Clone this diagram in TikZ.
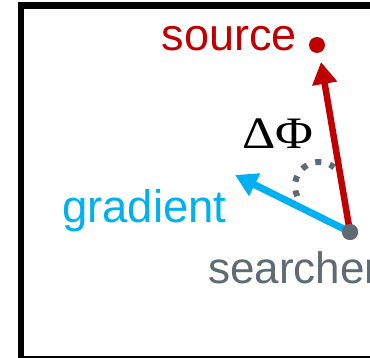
\documentclass[tikz,border=0pt]{standalone}
\usepackage{fontspec}
\setmainfont{Liberation Serif}
\setsansfont{Liberation Sans}
\usetikzlibrary{arrows.meta}

\definecolor{srcred}{HTML}{C00000}
\definecolor{gradblue}{HTML}{00B0F0}
\definecolor{srchgray}{HTML}{5F6A72}

\begin{document}
\begin{tikzpicture}[
  x=1pt, y=1pt,
  >={Triangle[width=24pt,length=22pt]},
  dot/.style={circle, fill, inner sep=0pt, minimum size=16pt},
  lab/.style={inner sep=0pt, anchor=base west,
              font=\fontsize{45}{54}\selectfont\sffamily},
  vec/.style={line width=6.5pt, ->},
  angmark/.style={srchgray, line width=6pt, dash pattern=on 6pt off 8.8pt}
]
  \useasboundingbox (0,0) rectangle (370,357);
  \clip (0,0) rectangle (370,357);
  \draw[line width=6.5pt] (21,351.5) rectangle (390,-2);

  % points
  \node[dot, srcred]   (src)  at (317,312) {};
  \node[dot, srchgray] (srch) at (350,125) {};
  \coordinate (srctip)  at (321,295);
  \coordinate (gradtip) at (235,182);

  % labels
  \node[lab, srcred]   (srclab)  at (161.5,306) {source};
  \node[lab, gradblue, font=\fontsize{45.5}{54}\selectfont\sffamily]
    (gradlab) at (62,135) {gradient};
  \node[lab, srchgray, font=\fontsize{44}{52}\selectfont\sffamily]
    (srchlab) at (208,74) {searcher};
  \node[inner sep=0pt, anchor=base west, font=\fontsize{45}{54}\selectfont]
    (dphi) at (242,208.7) {\scalebox{1.15}[1]{ΔΦ}};

  % angle between the two directions
  \draw[angmark] (319,171) ++(205:24) arc[start angle=205, end angle=51, radius=24];

  \draw[vec, srcred]   (srch.center) -- (srctip);
  \draw[vec, gradblue, line width=7pt] (srch.center) -- (gradtip);
  \node[dot, srchgray] at (srch) {};
\end{tikzpicture}
\end{document}
